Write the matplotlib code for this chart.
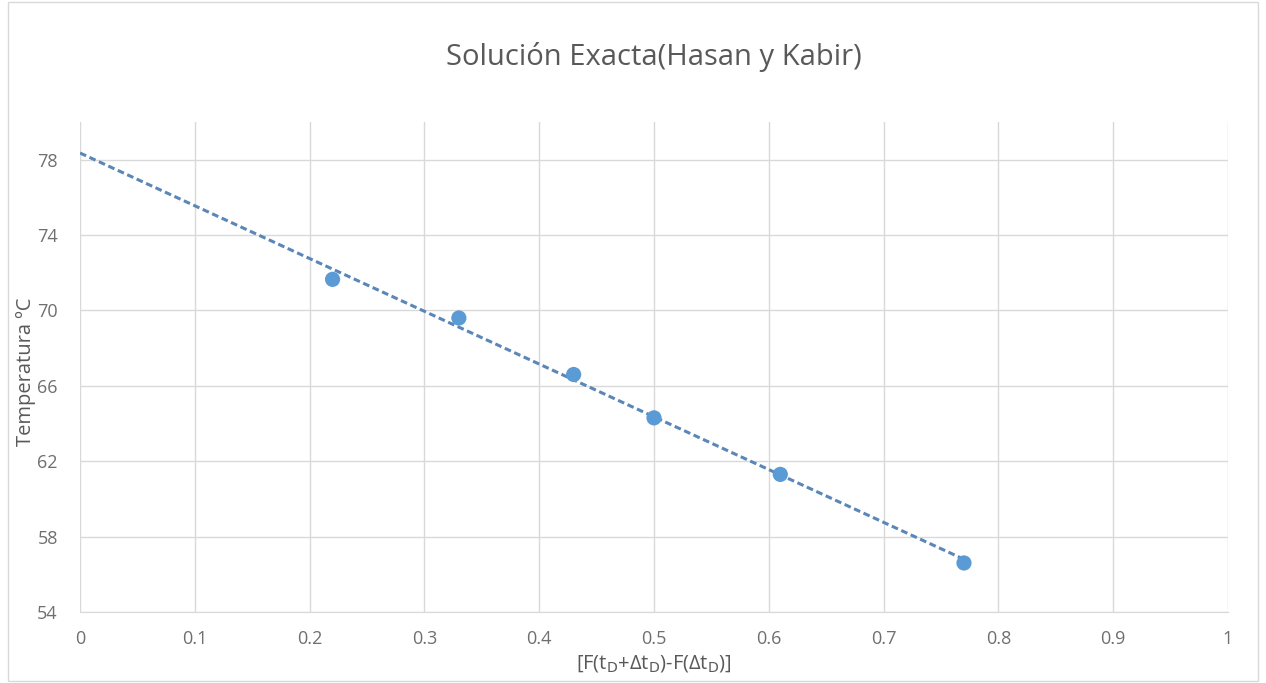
import matplotlib
matplotlib.use("Agg")
import matplotlib.pyplot as plt
import numpy as np
from matplotlib.patches import Rectangle

x_vals = [0.22, 0.33, 0.43, 0.50, 0.61, 0.77]
temps = [71.65, 69.6, 66.6, 64.3, 61.3, 56.6]
x_ticks = [0, 0.1, 0.2, 0.3, 0.4, 0.5, 0.6, 0.7, 0.8, 0.9, 1]
y_ticks = [54, 58, 62, 66, 70, 74, 78]

plt.rcParams['font.family'] = ['Open Sans', 'DejaVu Sans']

fig = plt.figure(figsize=(12.66, 6.83), dpi=100)
ax = fig.add_axes([0.0632, 0.104, 0.9068, 0.7174])

# trendline (linear fit)
coef = np.polyfit(x_vals, temps, 1)
xt = np.array([0, max(x_vals)])
ax.plot(xt, np.polyval(coef, xt), linestyle=(0, (2.2, 1.2)), color='#5A86B8', lw=2.2, zorder=2)
ax.scatter(x_vals, temps, s=120, color='#5B9BD5', zorder=3, edgecolors='none')

ax.set_xlim(0, 1)
ax.set_ylim(54, 80)
ax.set_xticks(x_ticks)
ax.set_xticklabels([f"{t:g}" for t in x_ticks])
ax.set_yticks(y_ticks)
ax.grid(True, color='#D9D9D9', lw=1)
ax.set_axisbelow(True)
for s in ['top', 'right', 'left']:
    ax.spines[s].set_visible(False)
ax.spines['bottom'].set_color('#D9D9D9')
ax.tick_params(length=0, labelsize=13, colors='#6F6F6F')
ax.tick_params(axis='x', pad=13)
ax.tick_params(axis='y', pad=16)

ax.set_title('Solución Exacta(Hasan y Kabir)', fontsize=21, color='#595959', pad=41)
ax.set_xlabel(r'[F(t$_\mathrm{D}$+Δt$_\mathrm{D}$)-F(Δt$_\mathrm{D}$)]', fontsize=14.5, color='#595959')
ax.xaxis.set_label_coords(0.5, -0.083)
ax.set_ylabel('Temperatura ºC', fontsize=14.5, color='#595959')
ax.yaxis.set_label_coords(-0.038, 0.49)

fig.patches.append(Rectangle((0.006, 0.003), 0.988, 0.994, transform=fig.transFigure,
                             fill=False, edgecolor='#D9D9D9', lw=1))

fig.savefig('out.png', dpi=100)
